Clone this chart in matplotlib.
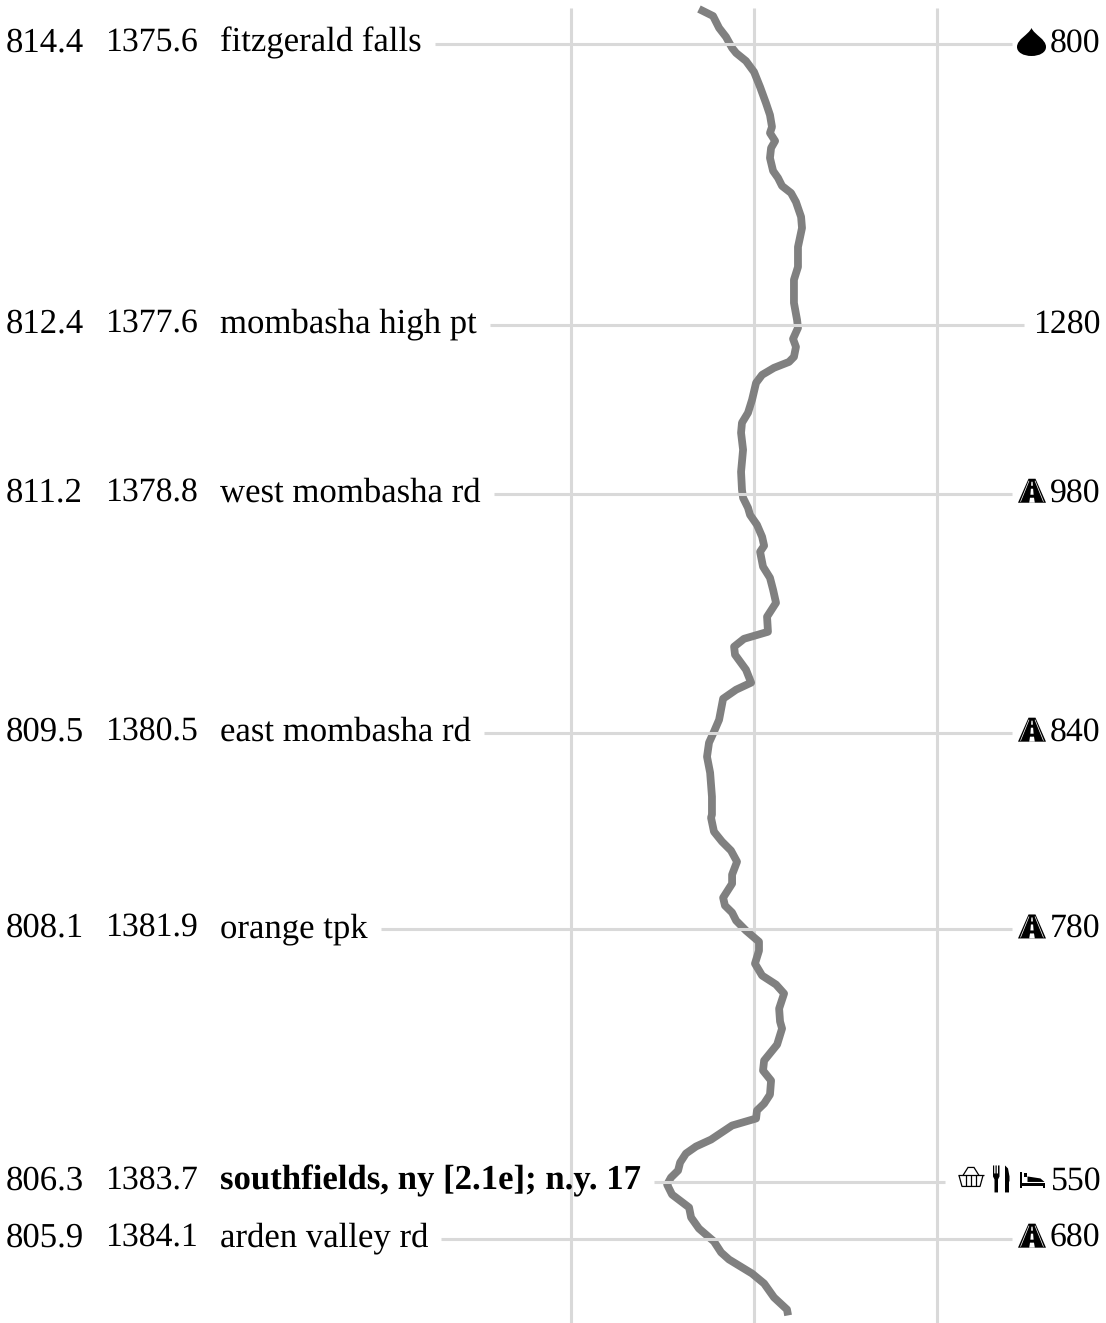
import matplotlib
matplotlib.use('Agg')
import matplotlib.pyplot as plt
from matplotlib.path import Path
from matplotlib.patches import PathPatch
from matplotlib.transforms import Affine2D, blended_transform_factory, offset_copy

plt.rcParams['font.family'] = ['Liberation Serif', 'DejaVu Serif']
plt.rcParams['text.hinting'] = 'none'

# waypoint table
sobo_miles = [814.4, 812.4, 811.2, 809.5, 808.1, 806.3, 805.9]
nobo_miles = [1375.6, 1377.6, 1378.8, 1380.5, 1381.9, 1383.7, 1384.1]
names = ['fitzgerald falls', 'mombasha high pt', 'west mombasha rd', 'east mombasha rd',
         'orange tpk', 'southfields, ny [2.1e]; n.y. 17', 'arden valley rd']
elevations = [800, 1280, 980, 840, 780, 550, 680]
icons = [['drop'], [], ['road'], ['road'], ['road'], ['basket', 'food', 'bed'], ['road']]
bold_names = ['southfields, ny [2.1e]; n.y. 17']

grid_elev = [0, 1000, 2000]

# elevation profile
profile_mile = [814.649, 814.599, 814.514, 814.450, 814.372, 814.336, 814.279, 814.201, 814.094, 813.980,
                813.895, 813.810, 813.767, 813.710, 813.660, 813.589, 813.497, 813.447, 813.390, 813.340,
                813.276, 813.170, 813.091, 812.956, 812.814, 812.722, 812.558, 812.437, 812.380, 812.302,
                812.245, 812.174, 812.138, 812.096, 812.046, 811.989, 811.868, 811.776, 811.705, 811.634,
                811.513, 811.356, 811.228, 811.171, 811.100, 811.050, 810.979, 810.894, 810.830, 810.787,
                810.681, 810.602, 810.517, 810.424, 810.325, 810.218, 810.168, 810.112, 810.055, 809.948,
                809.856, 809.806, 809.742, 809.592, 809.507, 809.429, 809.329, 809.215, 809.045, 808.917,
                808.895, 808.796, 808.725, 808.661, 808.582, 808.490, 808.426, 808.326, 808.270, 808.220,
                808.163, 808.092, 808.013, 807.949, 807.857, 807.772, 807.708, 807.644, 807.537, 807.445,
                807.395, 807.281, 807.167, 807.096, 807.025, 806.925, 806.861, 806.812, 806.755, 806.705,
                806.605, 806.556, 806.506, 806.442, 806.385, 806.335, 806.285, 806.214, 806.122, 806.051,
                805.972, 805.880, 805.802, 805.752, 805.652, 805.581, 805.482, 805.396, 805.354]
profile_elev = [699, 776, 809, 847, 880, 902, 956, 1000, 1033, 1065,
                1087, 1098, 1087, 1115, 1093, 1087, 1104, 1131, 1153, 1202,
                1229, 1257, 1262, 1240, 1240, 1218, 1218, 1235, 1240, 1213,
                1229, 1218, 1191, 1109, 1044, 1011, 989, 967, 934, 929,
                940, 929, 934, 940, 967, 978, 1016, 1044, 1055, 1033,
                1049, 1087, 1104, 1120, 1071, 1076, 945, 891, 896, 956,
                984, 902, 831, 809, 781, 754, 743, 760, 770, 770,
                765, 781, 825, 874, 907, 880, 880, 831, 841, 880,
                902, 956, 1027, 1027, 1005, 1044, 1120, 1164, 1137, 1142,
                1153, 1126, 1055, 1049, 1093, 1087, 1055, 1016, 1011, 880,
                765, 683, 628, 596, 585, 546, 525, 552, 645, 656,
                699, 781, 820, 863, 989, 1055, 1109, 1180, 1186]

W, H = 1106, 1323
RULE = '#d9d9d9'


def draw_icon(ax, kind, y_px):
    # icons are drawn in pixels around the row line, y going down
    def shape(verts, codes=None, x0=0, **kw):
        kw.setdefault('facecolor', 'black')
        kw.setdefault('edgecolor', 'none')
        place = Affine2D().scale(1, -1).translate(x0, y_px)
        ax.add_patch(PathPatch(Path(verts, codes), transform=place, zorder=5, clip_on=False, **kw))

    if kind == 'drop':
        shape([(0, -16), (3, -9), (14.5, -5), (14.5, 3), (14.5, 8.5), (8, 12), (0, 12),
               (-8, 12), (-14.5, 8.5), (-14.5, 3), (-14.5, -5), (-3, -9), (0, -16)],
              [Path.MOVETO] + [Path.CURVE4] * 12, x0=1031.5)
    elif kind == 'road':
        shape([(-14, 9), (-3.5, -15), (3.5, -15), (14, 9), (-14, 9)], x0=1032)
        line = dict(facecolor='none', edgecolor='white', linewidth=0.5)
        shape([(-11.5, 8), (-3, -13)], x0=1032, **line)
        shape([(11.5, 8), (3, -13)], x0=1032, **line)
        # centre dashes, getting wider towards the bottom
        for a, b, wa, wb in [(-12, -8, 0.6, 0.9), (-5, 1, 1.1, 1.6), (4, 9, 2.0, 2.8)]:
            shape([(-wa, a), (wa, a), (wb, b), (-wb, b), (-wa, a)], x0=1032, facecolor='white')
    elif kind == 'basket':
        line = dict(facecolor='none', edgecolor='black', linewidth=0.9)
        shape([(-13, -7), (13, -7)], x0=971, **line)
        shape([(-12, -7), (-9, 4), (9, 4), (12, -7)], x0=971, **line)
        shape([(-8, -7), (-3, -15), (3, -15), (8, -7)], x0=971, **line)
        for dx in [-5, 0, 5]:
            shape([(dx, -7), (dx, 4)], x0=971, **line)
    elif kind == 'food':
        shape([(-8, -17), (-6.8, -17), (-6.8, -9), (-5.5, -9), (-5.5, -17), (-4.3, -17), (-4.3, -9), (-3, -9),
               (-3, -17), (-1.5, -17), (-1.5, -6), (-3, -3), (-3, 10), (-6.5, 10), (-6.5, -3), (-8, -6), (-8, -17)],
              x0=1001)
        shape([(4, -17), (7, -14), (8.5, -6), (8.5, -1), (8, -1), (8, 10), (4, 10), (4, -17)], x0=1001)
    elif kind == 'bed':
        shape([(-12.5, -10), (-10.5, -10), (-10.5, 6), (-12.5, 6)], x0=1032.5)
        shape([(-10.5, 1), (12, 1), (12, 6), (10, 6), (10, 4), (-10.5, 4)], x0=1032.5)
        shape([(-5, -6), (8, -4), (12, -0.5), (-5, -0.5)], x0=1032.5)
        shape([(-9, -9), (-6, -9), (-6, -5), (-9, -5)], x0=1032.5)


fig = plt.figure(figsize=(W / 100, H / 100), dpi=100)
ax = fig.add_axes([0, 0, 1, 1])
ax.set_xlim(-3120, 2923)
ax.set_ylim(805.30, 814.713)
ax.axis('off')

# vertical grid, stops just short of the top
ax.vlines(grid_elev, 805.30, 814.656, color=RULE, linewidth=2.2, zorder=1)

ax.plot(profile_elev, profile_mile, color='#808080', linewidth=5.6, solid_joinstyle='round',
        solid_capstyle='butt', zorder=2)

row = blended_transform_factory(fig.transFigure, ax.transData)
row_text = offset_copy(row, fig=fig, y=-7.5, units='dots')
fs_sobo = 25
fs_nobo = 24.3
fs_elev = 24.3
fs_name = 25

fig.canvas.draw()
renderer = fig.canvas.get_renderer()

for sobo, nobo, name, elev, row_icons in zip(sobo_miles, nobo_miles, names, elevations, icons):
    ax.text(6 / W, sobo, f'{sobo:.1f}', transform=row_text, fontsize=fs_sobo, ha='left', va='baseline')
    ax.text(105 / W, sobo, f'{nobo:.1f}', transform=row_text, fontsize=fs_nobo, ha='left', va='baseline')
    label = ax.text(220 / W, sobo, name, transform=row_text, fontsize=fs_name, ha='left', va='baseline',
                    fontweight='bold' if name in bold_names else 'normal')
    ax.text(1100.5 / W, sobo, str(elev), transform=row_text, fontsize=fs_elev, ha='right', va='baseline')

    # rule runs from the end of the name up to the icons
    start = label.get_window_extent(renderer).x1 + 13
    if 'basket' in row_icons:
        end = 945
    elif row_icons:
        end = 1012
    else:
        end = 1024
    ax.plot([start / W, end / W], [sobo, sobo], transform=row, color=RULE, linewidth=2.2,
            solid_capstyle='butt', zorder=3)

    y_px = ax.transData.transform((0, sobo))[1]
    for kind in row_icons:
        draw_icon(ax, kind, y_px)

fig.savefig('out.png', dpi=100)
